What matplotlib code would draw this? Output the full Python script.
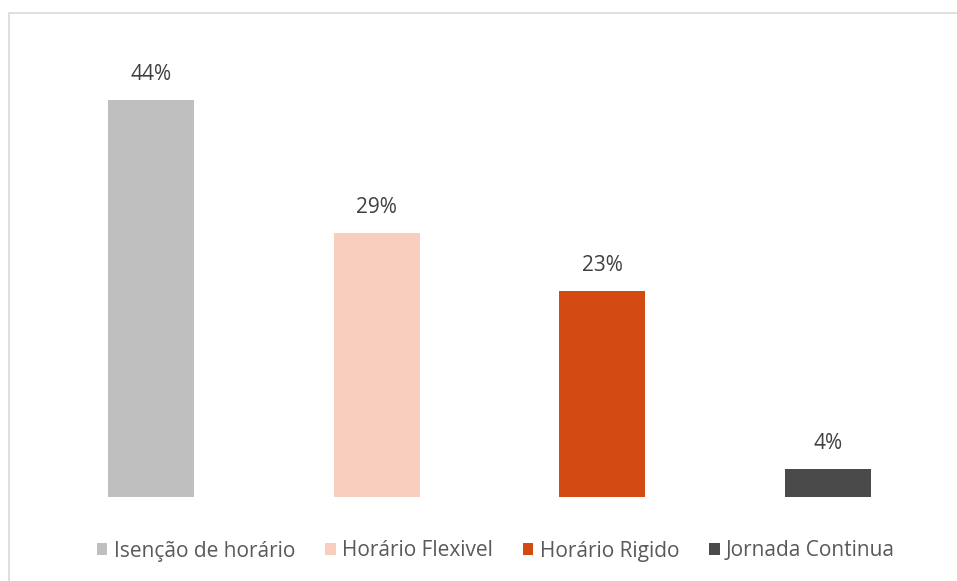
import matplotlib.pyplot as plt
from matplotlib.patches import Rectangle

categories = ['Isenção de horário', 'Horário Flexivel', 'Horário Rigido', 'Jornada Continua']
values = [44.0, 29.2, 22.8, 3.1]
labels = ['44%', '29%', '23%', '4%']
colors = ['#BFBFBF', '#F8CFBF', '#D34A12', '#4A4A4A']

plt.rcParams['font.family'] = ['Open Sans', 'DejaVu Sans']

fig = plt.figure(figsize=(9.57, 5.81), dpi=100)
ax = fig.add_axes([38 / 957, 1 - 497 / 581, 903 / 957, 451.7 / 581])

for i, (cat, val, lab, col) in enumerate(zip(categories, values, labels, colors)):
    ax.bar(i, val, width=0.38, color=col, label=cat)
    ax.text(i, val + 2.2, lab, ha='center', va='baseline', fontsize=15, color='#404040')

ax.set_xlim(-0.5, 3.5)
ax.set_ylim(0, 50)
ax.axis('off')

# light chart border (only top and left visible in the crop)
fig.patches.append(Rectangle((9 / 957, -0.1), 1.2, 1.1 - 13 / 581, transform=fig.transFigure,
                             fill=False, edgecolor='#D9D9D9', linewidth=1.2))

fig.legend(loc='center', bbox_to_anchor=(496 / 957, 1 - 551 / 581), ncol=4, frameon=False,
           fontsize=15, handlelength=0.5, handleheight=0.5, handletextpad=0.3,
           columnspacing=1.45, labelcolor='#595959')

fig.savefig('out.png', dpi=100)
